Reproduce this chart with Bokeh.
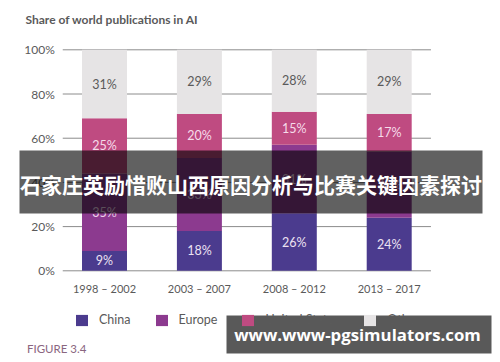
from bokeh.plotting import figure
from bokeh.models import (Range1d, ColumnDataSource, Label, BoxAnnotation,
                          Legend, LegendItem)
from bokeh.core.properties import value
from bokeh.embed import file_html
from bokeh.resources import INLINE

# ---- data ----
periods = ["1998 – 2002", "2003 – 2007", "2008 – 2012", "2013 – 2017"]
series = ["China", "Europe", "United States", "Other"]
china = [9, 18, 26, 24]
europe = [35, 33, 31, 30]
united_states = [25, 20, 15, 17]
other = [31, 29, 28, 29]
y_ticks = [0, 20, 40, 60, 80, 100]
y_tick_labels = ["0%", "20%", "40%", "60%", "80%", "100%"]
title_text = "Share of world publications in AI"
figure_text = "FIGURE 3.4"
banner_text = "石家庄英励惜败山西原因分析与比赛关键因素探讨"
watermark_text = "www.www-pgsimulators.com"

# ---- styles / layout ----
colors = ["#4b3b8e", "#8c3a8f", "#bf4b81", "#e6e4e5"]
label_colors = ["#ece2f2", "#ecd2ea", "#f6dcea", "#5a5a5a"]
FONT = "Lato"
TXT = "#5a5a5a"
W, H = 492, 354
BAR_W = 0.474
GRID_PAD = 0.44

x_idx = list(range(len(periods)))

p = figure(width=W, height=H,
           x_range=Range1d(-1.0959, 4.0885), y_range=Range1d(-37.87, 122.31),
           x_axis_location=None, y_axis_location=None, title=None,
           min_border=0, output_backend="svg", toolbar_location=None)
for g in p.grid:
    g.visible = False
p.outline_line_color = None
p.background_fill_color = "white"
p.border_fill_color = "white"

# gridlines at the y ticks, spanning the bar area
n = len(y_ticks)
p.segment(x0=[x_idx[0] - GRID_PAD] * n, x1=[x_idx[-1] + GRID_PAD] * n,
          y0=y_ticks, y1=y_ticks, line_color="#8c8c8c", line_width=1, level="underlay")

# stacked bars
src = ColumnDataSource(data={"x": x_idx, "China": china, "Europe": europe,
                             "United States": united_states, "Other": other})
rends = p.vbar_stack(series, x="x", width=BAR_W, fill_color=colors,
                     line_color=None, source=src)

# segment labels
lx, ly, lt, lc = [], [], [], []
cum = [0] * len(periods)
for vals, col in zip([china, europe, united_states, other], label_colors):
    for i, v in enumerate(vals):
        lx.append(x_idx[i])
        ly.append(cum[i] + v / 2)
        lt.append(f"{v}%")
        lc.append(col)
        cum[i] += v
p.text(x=lx, y=ly, text=lt, text_color=lc, text_align="center",
       text_baseline="middle", text_font=value(FONT), text_font_size="12.5px")

# y tick labels
p.text(x=[x_idx[0] - GRID_PAD] * n, y=y_ticks, text=y_tick_labels, x_offset=-8,
       text_align="right", text_baseline="middle", text_color=TXT,
       text_font=value(FONT), text_font_size="12px")
# x category labels
p.text(x=x_idx, y=[0] * len(x_idx), text=periods, y_offset=18,
       text_align="center", text_baseline="middle", text_color=TXT,
       text_font=value(FONT), text_font_size="11px")

# legend
legend = Legend(items=[LegendItem(label=s, renderers=[r]) for s, r in zip(series, rends)],
                orientation="horizontal", location=(74, 27),
                glyph_width=15, glyph_height=14, label_height=14,
                label_standoff=10, spacing=23, padding=0, margin=0,
                border_line_color=None, background_fill_alpha=0,
                label_text_font=FONT, label_text_font_size="12.5px",
                label_text_color=TXT, label_text_baseline="middle")
p.add_layout(legend)

# title and figure label
p.add_layout(Label(x=25, y=335, x_units="screen", y_units="screen", text=title_text,
                   text_font=FONT, text_font_style="bold", text_font_size="12px",
                   text_color="#5a5a5a", text_baseline="middle"))
p.add_layout(Label(x=26.5, y=6.5, x_units="screen", y_units="screen", text=figure_text,
                   text_font=FONT, text_font_size="11.5px", text_color="#8a6680",
                   text_baseline="middle"))

# overlay banner
p.add_layout(BoxAnnotation(left=19, right=482, top=204, bottom=141,
                           left_units="screen", right_units="screen",
                           top_units="screen", bottom_units="screen",
                           fill_color="black", fill_alpha=0.62, line_color=None))
p.add_layout(Label(x=250.5, y=171, x_units="screen", y_units="screen", text=banner_text,
                   text_font="Noto Sans CJK SC", text_font_style="bold",
                   text_font_size="21px", text_color="white",
                   text_align="center", text_baseline="middle"))

# watermark
p.add_layout(BoxAnnotation(left=226, right=491, top=39, bottom=1,
                           left_units="screen", right_units="screen",
                           top_units="screen", bottom_units="screen",
                           fill_color="black", fill_alpha=0.65, line_color=None))
p.add_layout(Label(x=357, y=20, x_units="screen", y_units="screen", text=watermark_text,
                   text_font="Open Sans", text_font_style="bold",
                   text_font_size="16.8px", text_color="white",
                   text_align="center", text_baseline="middle"))

open("out.html", "w").write(file_html(p, INLINE))
